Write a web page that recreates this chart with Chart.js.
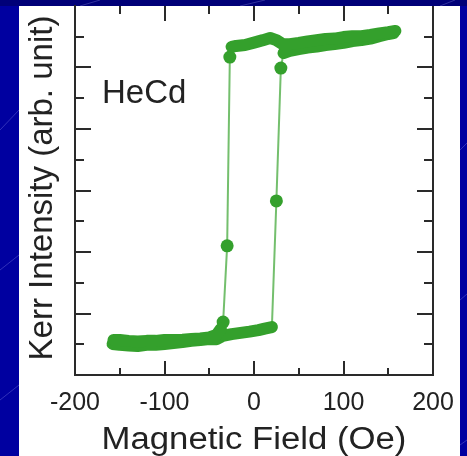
<!DOCTYPE html>
<html>
<head>
<meta charset="utf-8">
<script src="https://cdn.jsdelivr.net/npm/chart.js@4.4.1/dist/chart.umd.min.js"></script>
<style>
  html, body { margin: 0; padding: 0; background: #0000a0; }
  #wrap { width: 467px; height: 456px; }
</style>
</head>
<body>
<div id="wrap"><canvas id="myChart" width="467" height="456"></canvas></div>
<script>
// field (Oe) and Kerr intensity (arb. unit)
// descending branch, upper plateau (right to left)
const descTopField = [158, 150, 140, 130, 120, 110, 100, 90, 80, 70, 60, 50, 40, 32, 25, 18, 10, 0, -10, -20, -25];
const descTopKerr  = [11.19, 11.15, 11.11, 11.06, 11.02, 11.02, 10.99, 10.94, 10.93, 10.89, 10.85, 10.80, 10.76, 10.76, 10.89, 10.96, 10.89, 10.81, 10.73, 10.70, 10.67];
// descending jump
const descJumpField = [-25, -27, -30, -34.5, -37];
const descJumpKerr  = [10.67, 10.34, 4.20, 1.72, 1.50];
// descending branch, lower plateau
const descLowField = [-37, -42, -50, -60, -70, -80, -90, -100, -110, -120, -130, -140, -150, -157];
const descLowKerr  = [1.50, 1.30, 1.22, 1.19, 1.17, 1.15, 1.14, 1.14, 1.11, 1.11, 1.09, 1.11, 1.14, 1.14];
// ascending branch, lower plateau (left to right)
const ascLowField = [-158, -150, -140, -130, -120, -110, -100, -90, -80, -70, -60, -50, -42, -35, -25, -15, -5, 5, 12, 20];
const ascLowKerr  = [1.01, 0.98, 0.96, 0.94, 0.98, 0.98, 1.01, 1.04, 1.07, 1.11, 1.14, 1.17, 1.16, 1.27, 1.33, 1.37, 1.41, 1.46, 1.51, 1.56];
// ascending jump
const ascJumpField = [20, 25, 30, 33];
const ascJumpKerr  = [1.56, 5.66, 9.98, 10.47];
// ascending branch, upper plateau
const ascTopField = [33, 40, 50, 60, 70, 80, 90, 100, 110, 120, 130, 140, 150, 156];
const ascTopKerr  = [10.47, 10.54, 10.60, 10.65, 10.68, 10.73, 10.76, 10.80, 10.86, 10.89, 10.94, 11.02, 11.09, 11.12];

const xTicks = [-200, -100, 0, 100, 200];

const green = '#34a02c';
const thin = 'rgba(70,170,60,0.75)';

function pts(xs, ys) {
  return xs.map((x, i) => ({x: x, y: ys[i]}));
}

function band(xs, ys) {
  return {
    data: pts(xs, ys),
    borderColor: green,
    borderWidth: 12,
    borderCapStyle: 'round',
    borderJoinStyle: 'round',
    pointRadius: 0,
    fill: false,
    tension: 0
  };
}

function jump(xs, ys) {
  return {
    data: pts(xs, ys),
    borderColor: thin,
    borderWidth: 2,
    pointRadius: xs.map((x, i) => (i === 0 || i === xs.length - 1) ? 0 : 6.5),
    pointBackgroundColor: green,
    pointBorderWidth: 0,
    fill: false,
    tension: 0
  };
}

const font = "'Liberation Sans', Arial, sans-serif";

//background, white panel, tick marks, texts
const deco = {
  id: 'deco',
  beforeDraw(chart) {
    const c = chart.ctx;
    c.save();
    c.fillStyle = '#0000a0';
    c.fillRect(0, 0, 467, 456);
    c.fillStyle = '#000078';
    c.fillRect(0, 0, 467, 6);
    c.strokeStyle = 'rgba(180,180,255,0.35)';
    c.lineWidth = 0.8;
    [[0, 130, 19, 110], [0, 270, 19, 255], [0, 400, 19, 385], [80, 6, 100, 0], [240, 6, 265, 0],
     [440, 6, 455, 0], [460, 150, 467, 143], [460, 300, 467, 294], [460, 445, 467, 440]].forEach(l => {
      c.beginPath(); c.moveTo(l[0], l[1]); c.lineTo(l[2], l[3]); c.stroke();
    });
    c.fillStyle = '#ffffff';
    c.fillRect(19, 6, 441, 450);
    c.restore();
  },
  afterDraw(chart) {
    const c = chart.ctx;
    const xs = chart.scales.x, ys = chart.scales.y;
    const a = chart.chartArea;
    c.save();
    c.strokeStyle = '#2a2a2a';
    c.lineWidth = 2;
    // right frame
    c.beginPath(); c.moveTo(a.right, a.top); c.lineTo(a.right, a.bottom + 1); c.stroke();
    // x ticks, bottom and top
    for (let v = -150; v <= 150; v += 50) {
      const px = Math.round(xs.getPixelForValue(v));
      const len = v % 100 === 0 ? 14 : 7;
      c.beginPath(); c.moveTo(px, a.bottom); c.lineTo(px, a.bottom - len); c.stroke();
      c.beginPath(); c.moveTo(px, a.top); c.lineTo(px, a.top + len + 1); c.stroke();
    }
    // y ticks, left and right
    for (let v = 1; v <= 11; v++) {
      const py = Math.round(ys.getPixelForValue(v));
      const len = v % 2 === 0 ? 16 : 9;
      c.beginPath(); c.moveTo(a.left, py); c.lineTo(a.left + len, py); c.stroke();
      c.beginPath(); c.moveTo(a.right, py); c.lineTo(a.right - len, py); c.stroke();
    }
    c.fillStyle = '#222222';
    c.font = '33px ' + font;
    c.textAlign = 'left';
    c.textBaseline = 'alphabetic';
    c.fillText('HeCd', 102, 103);
    // axis titles
    c.textAlign = 'center';
    c.textBaseline = 'middle';
    c.save();
    c.translate(43, 188);
    c.rotate(-Math.PI / 2);
    c.fillText('Kerr Intensity (arb. unit)', 0, 0);
    c.restore();
    c.save();
    c.translate(254, 440);
    c.scale(1.12, 1);
    c.font = '31px ' + font;
    c.fillText('Magnetic Field (Oe)', 0, 0);
    c.restore();
    c.restore();
  }
};

new Chart('myChart', {
  type: 'line',
  data: {
    datasets: [
      band(descTopField, descTopKerr),
      band(descLowField, descLowKerr),
      band(ascLowField, ascLowKerr),
      band(ascTopField, ascTopKerr),
      jump(descJumpField, descJumpKerr),
      jump(ascJumpField, ascJumpKerr)
    ]
  },
  options: {
    responsive: false,
    animation: false,
    layout: {padding: {left: 0, right: 34, top: 6, bottom: 0}},
    plugins: {legend: {display: false}, tooltip: {enabled: false}},
    scales: {
      x: {
        type: 'linear',
        min: -200,
        max: 200,
        afterFit: s => { s.height = 81; },
        afterBuildTicks: s => { s.ticks = xTicks.map(v => ({value: v})); },
        grid: {display: false, drawTicks: false},
        border: {display: true, color: '#2a2a2a', width: 2},
        ticks: {
          color: '#222222',
          font: {family: font, size: 25},
          padding: 13,
          maxRotation: 0,
          autoSkip: false
        }
      },
      y: {
        type: 'linear',
        min: 0,
        max: 12,
        afterFit: s => { s.width = 75; },
        grid: {display: false, drawTicks: false},
        border: {display: true, color: '#2a2a2a', width: 2},
        ticks: {display: false}
      }
    }
  },
  plugins: [deco]
});
</script>
</body>
</html>
